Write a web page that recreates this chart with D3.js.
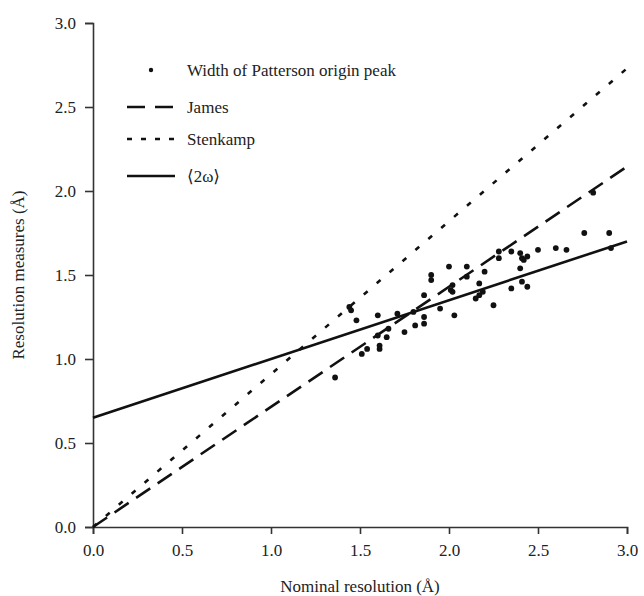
<!DOCTYPE html>
<html>
<head>
<meta charset="utf-8">
<script src="https://cdn.jsdelivr.net/npm/d3@7"></script>
<style>
  body { margin: 0; background: #fff; }
  svg text { font-family: "Liberation Serif", "DejaVu Serif", "Times New Roman", serif !important; fill: #222; }
</style>
</head>
<body>
<svg id="canvas" width="644" height="596"></svg>
<script>
// nominal resolution (A) of each structure, and width of Patterson origin peak (A)
const nominal = [1.36, 1.44, 1.45, 1.48, 1.51, 1.54,
  1.60, 1.60, 1.61, 1.61, 1.65, 1.66, 1.71, 1.75, 1.80, 1.81,
  1.86, 1.86, 1.86, 1.90, 1.90, 1.95, 2.00, 2.01, 2.02, 2.02,
  2.03, 2.10, 2.10, 2.15, 2.17, 2.17, 2.19, 2.20, 2.25,
  2.28, 2.28, 2.35, 2.35, 2.40, 2.41, 2.42, 2.44, 2.40, 2.41,
  2.44, 2.50, 2.60, 2.66, 2.76, 2.81, 2.90, 2.91]
const pattersonWidth = [0.89, 1.31, 1.29, 1.23, 1.03, 1.06,
  1.26, 1.14, 1.08, 1.06, 1.13, 1.18, 1.27, 1.16, 1.28, 1.20,
  1.38, 1.25, 1.21, 1.50, 1.47, 1.30, 1.55, 1.41, 1.44, 1.40,
  1.26, 1.55, 1.49, 1.36, 1.38, 1.45, 1.40, 1.52, 1.32,
  1.64, 1.60, 1.64, 1.42, 1.63, 1.60, 1.59, 1.61, 1.54, 1.46,
  1.43, 1.65, 1.66, 1.65, 1.75, 1.99, 1.75, 1.66]

// straight lines: y = slope * x + intercept
const lineNames = ["James", "Stenkamp", "\u27E82\u03C9\u27E9"]
const lineSlopes = [0.715, 0.91, 0.35]
const lineIntercepts = [0, 0, 0.65]
const lineDashes = ["17,9", "5,12", null]

const xTicks = [0, 0.5, 1, 1.5, 2, 2.5, 3]
const yTicks = [0, 0.5, 1, 1.5, 2, 2.5, 3]

const svg = d3.select("#canvas")
const x = d3.scaleLinear().domain([0, 3]).range([93, 627])
const y = d3.scaleLinear().domain([0, 3]).range([527, 23])

const xAxis = svg.append("g")
  .attr("transform", "translate(0," + y(0) + ")")
  .call(d3.axisBottom(x).tickValues(xTicks).tickFormat(d3.format(".1f")).tickSizeOuter(0).tickSize(7).tickPadding(6))
const yAxis = svg.append("g")
  .attr("transform", "translate(" + x(0) + ",0)")
  .call(d3.axisLeft(y).tickValues(yTicks).tickFormat(d3.format(".1f")).tickSizeOuter(0).tickSize(8).tickPadding(9))

;[xAxis, yAxis].forEach(function(a) {
  a.attr("font-family", null).attr("font-size", null)
  a.select(".domain").attr("stroke", "#333").attr("stroke-width", 1.6)
  a.selectAll(".tick line").attr("stroke", "#333").attr("stroke-width", 1.6)
  a.selectAll("text").style("font-size", "17px").attr("fill", "#222")
})
xAxis.selectAll("text").attr("dy", "0.95em")

svg.append("text")
  .attr("x", 360).attr("y", 592)
  .attr("text-anchor", "middle").style("font-size", "17px")
  .text("Nominal resolution (\u00C5)")
svg.append("text")
  .attr("transform", "translate(24,275) rotate(-90)")
  .attr("text-anchor", "middle").style("font-size", "17px")
  .text("Resolution measures (\u00C5)")

const plot = svg.append("g")
plot.selectAll("line.fit")
  .data(lineNames.map(function(n, i) {
    return { name: n, slope: lineSlopes[i], intercept: lineIntercepts[i], dash: lineDashes[i] }
  }))
  .enter().append("line")
  .attr("class", "fit")
  .attr("x1", x(0)).attr("x2", x(3))
  .attr("y1", function(d) { return y(d.intercept) })
  .attr("y2", function(d) { return y(d.slope * 3 + d.intercept) })
  .attr("stroke", "#111")
  .attr("stroke-width", 2.6)
  .attr("stroke-dasharray", function(d) { return d.dash })

plot.selectAll("circle")
  .data(nominal.map(function(v, i) { return [v, pattersonWidth[i]] }))
  .enter().append("circle")
  .attr("cx", function(d) { return x(d[0]) })
  .attr("cy", function(d) { return y(d[1]) })
  .attr("r", 2.9)
  .attr("fill", "#111")

// legend
const legend = svg.append("g")
legend.append("circle").attr("cx", 151).attr("cy", 70).attr("r", 2.2).attr("fill", "#111")
legend.append("text").attr("x", 187).attr("y", 76).style("font-size", "17px").text("Width of Patterson origin peak")
const rowY = [107, 139, 176]
lineNames.forEach(function(n, i) {
  legend.append("line")
    .attr("x1", 127).attr("x2", 175)
    .attr("y1", rowY[i]).attr("y2", rowY[i])
    .attr("stroke", "#111").attr("stroke-width", 2.6)
    .attr("stroke-dasharray", i == 0 ? "18,10" : i == 1 ? "5,9" : null)
  legend.append("text").attr("x", 187).attr("y", rowY[i] + 6).style("font-size", "17px").text(n)
})
</script>
</body>
</html>
